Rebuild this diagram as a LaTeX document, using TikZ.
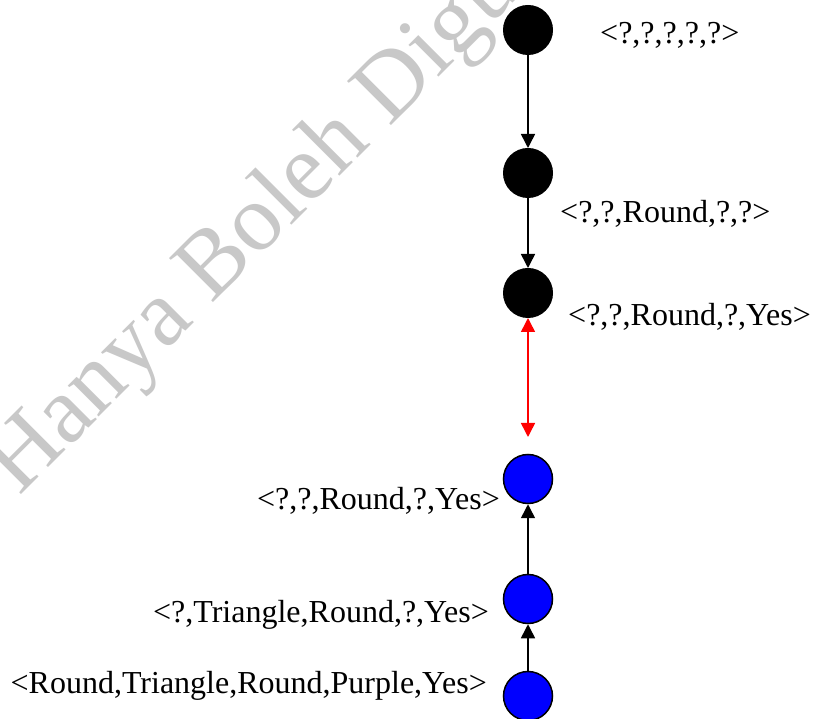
\documentclass[tikz,border=0pt]{standalone}
\usepackage{fontspec}
\setmainfont{Liberation Serif}
\usetikzlibrary{arrows.meta}
\definecolor{pureblue}{RGB}{0,0,255}
\definecolor{purered}{RGB}{255,0,0}
\definecolor{wmgray}{RGB}{200,200,200}
\begin{document}
\begin{tikzpicture}[x=1pt,y=-1pt,
  blackdot/.style={circle,fill=black,draw=black,line width=1pt,minimum size=49pt,inner sep=0pt},
  bluedot/.style={circle,fill=pureblue,draw=black,line width=1.5pt,minimum size=49pt,inner sep=0pt},
  lbl/.style={font=\fontsize{32}{38}\selectfont,inner sep=0pt},
  wm/.style={font=\fontsize{95}{110}\selectfont,text=wmgray,inner sep=0pt},
  conn/.style={line width=1.5pt,-{Triangle[length=14pt,width=14pt]}},
  redconn/.style={line width=1.5pt,draw=purered,{Triangle[length=14pt,width=14pt]}-{Triangle[length=14pt,width=14pt]}}]
\useasboundingbox (0,0) rectangle (815,719);
\clip (0,0) rectangle (815,719);
\fill[white] (0,0) rectangle (815,719);
% watermark
\node[wm,rotate=45,anchor=base west] (wmark) at (19.5,497) {Hanya Boleh Digu};
% nodes
\node[blackdot] (c1) at (528,30) {};
\node[blackdot] (c2) at (528,173) {};
\node[blackdot] (c3) at (528,293) {};
\node[bluedot] (b1) at (528,479) {};
\node[bluedot] (b2) at (528,599) {};
\node[bluedot] (b3) at (528,696) {};
\coordinate (rend) at (528,437);
% labels
\node[lbl,anchor=base west] (l1) at (600,44) {<?,?,?,?,?>};
\node[lbl,anchor=base west] (l2) at (560,223) {<?,?,Round,?,?>};
\node[lbl,anchor=base west] (l3) at (568,326) {<?,?,Round,?,Yes>};
\node[lbl,anchor=base east] (l4) at (500,510) {<?,?,Round,?,Yes>};
\node[lbl,anchor=base east] (l5) at (489,622) {<?,Triangle,Round,?,Yes>};
\node[lbl,anchor=base east] (l6) at (487,693) {<Round,Triangle,Round,Purple,Yes>};
% connectors
\draw[conn] (c1) -- (c2);
\draw[conn] (c2) -- (c3);
\draw[redconn] (c3) -- (rend);
\draw[conn] (b2) -- (b1);
\draw[conn] (b3) -- (b2);
\end{tikzpicture}
\end{document}
